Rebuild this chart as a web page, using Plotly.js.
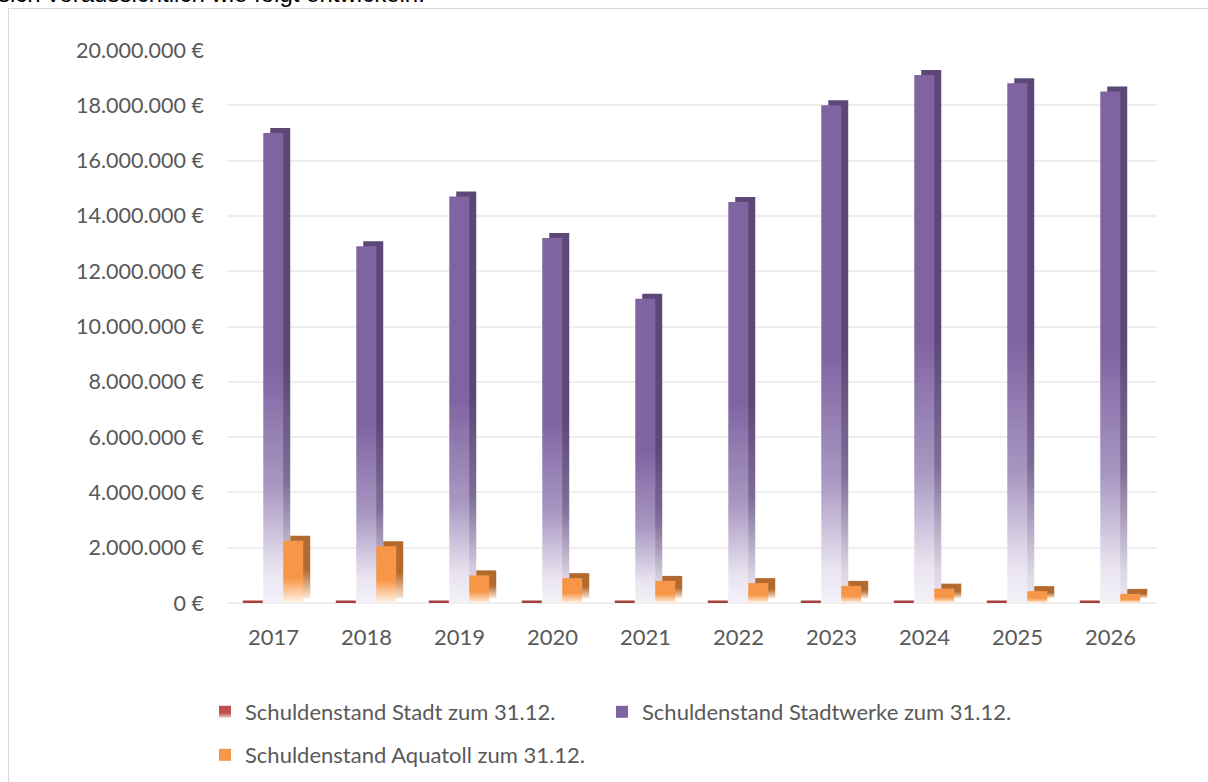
<!DOCTYPE html>
<html><head><meta charset="utf-8">
<script src="https://cdn.plot.ly/plotly-3.0.1.min.js"></script>
<style>
html,body{margin:0;padding:0;background:#fff;overflow:hidden;width:1208px;height:782px;}
#top{position:absolute;left:-2px;top:-20px;font-family:"Liberation Sans",Arial,sans-serif;font-size:24px;line-height:28px;color:#000;white-space:nowrap;}
#frame{position:absolute;left:8px;top:8px;width:1220px;height:800px;border:1px solid #d9d9d9;box-sizing:border-box;}
#chart{position:absolute;left:0;top:0;width:1208px;height:782px;}
</style></head><body>
<div id="top">sich voraussichtlich wie folgt entwickeln:</div>
<div id="frame"></div>
<div id="chart"></div>
<script>
const years = ['2017','2018','2019','2020','2021','2022','2023','2024','2025','2026'];
const stadt = [0,0,0,0,0,0,0,0,0,0];
const stadtwerke = [17000000,12900000,14700000,13200000,11000000,14500000,18000000,19100000,18800000,18500000];
const aquatoll = [2250000,2050000,1000000,900000,800000,720000,620000,520000,430000,330000];
const seriesNames = ['Schuldenstand Stadt zum 31.12.','Schuldenstand Stadtwerke zum 31.12.','Schuldenstand Aquatoll zum 31.12.'];

const W = 0.215, DX = 0.075, DY = 180000;
const font = {family:'Lato, "Open Sans", sans-serif', size:22, color:'#595959'};
const yfont = {family:'Lato, "Open Sans", sans-serif', size:21.5, color:'#595959'};

const traces = [
  {type:'bar', name:seriesNames[0], x:years, y:stadt, width:W, offset:-0.33,
   marker:{color:'#a5403d', line:{color:'#a5403d', width:5}}, legend:'legend', hoverinfo:'skip'},
  {type:'bar', x:years, y:stadtwerke, width:W, offset:-0.11+DX, base:DY, showlegend:false,
   marker:{color:'#5c4776', line:{width:0}}, hoverinfo:'skip'},
  {type:'bar', name:seriesNames[1], x:years, y:stadtwerke, width:W, offset:-0.11,
   marker:{color:'#8064a2', line:{width:0}}, legend:'legend3', hoverinfo:'skip'},
  {type:'bar', x:years, y:aquatoll, width:W, offset:0.105+DX, base:DY, showlegend:false,
   marker:{color:'#b36a2f', line:{width:0}}, hoverinfo:'skip'},
  {type:'bar', name:seriesNames[2], x:years, y:aquatoll, width:W, offset:0.105,
   marker:{color:'#f79646', line:{width:0}}, legend:'legend2', hoverinfo:'skip'}
];

const leg = (x, y) => ({orientation:'h', xref:'container', yref:'container', x:x/1208, y:1-y/782,
  xanchor:'left', yanchor:'middle', font:font, bgcolor:'rgba(0,0,0,0)', itemclick:false});

const layout = {
  width:1208, height:782,
  paper_bgcolor:'rgba(0,0,0,0)', plot_bgcolor:'rgba(0,0,0,0)',
  margin:{l:227, r:51, t:50, b:179},
  barmode:'overlay',
  separators:',.',
  font:font,
  xaxis:{type:'category', tickfont:font, showgrid:false, zeroline:false, showline:false, ticks:'', ticklabelstandoff:19, range:[-0.5,9.5]},
  yaxis:{range:[0,20000000], dtick:2000000, tickformat:',.0f', ticksuffix:' €', tickfont:yfont,
         gridcolor:'#eeeeee', gridwidth:2, zeroline:true, zerolinecolor:'#eeeeee', zerolinewidth:2,
         showline:false, ticks:'', ticklabelstandoff:22},
  showlegend:true,
  legend:leg(205, 712),
  legend3:leg(602, 712),
  legend2:leg(205, 755)
};

function addGradients(gd){
  const svg = gd.querySelector('svg.main-svg');
  const NS = 'http://www.w3.org/2000/svg';
  let defs = svg.querySelector('defs');
  const grads = {
    gRed:[[0,'#c0504d',1],[0.6,'#c0504d',1],[1,'#f2d4d3',1]],
    gPurpS:[[0,'#5c4776',1],[0.5,'#5c4776',1],[0.75,'#7f6e96',1],[0.95,'#ddd7e6',1],[1,'#e8e4ee',1]],
    gPurp:[[0,'#8064a2',1],[0.5,'#8064a2',1],[0.75,'#a897c2',1],[0.93,'#e9e4f0',1],[1,'#f4f1f8',1]],
    gOrS:[[0,'#b36a2f',1],[0.55,'#b36a2f',1],[1,'#fbe3cf',1]],
    gOr:[[0,'#f79646',1],[0.6,'#f79646',1],[1,'#fff4ea',1]]
  };
  Object.keys(grads).forEach(id=>{
    const lg = document.createElementNS(NS,'linearGradient');
    lg.setAttribute('id',id); lg.setAttribute('x1','0'); lg.setAttribute('y1','0'); lg.setAttribute('x2','0'); lg.setAttribute('y2','1');
    grads[id].forEach(s=>{
      const st = document.createElementNS(NS,'stop');
      st.setAttribute('offset',s[0]); st.setAttribute('stop-color',s[1]); st.setAttribute('stop-opacity',s[2]);
      lg.appendChild(st);
    });
    defs.appendChild(lg);
  });
  const ids = ['gRed','gPurpS','gPurp','gOrS','gOr'];
  gd.querySelectorAll('.barlayer .trace.bars').forEach((t,i)=>{
    if(i===0) return;
    t.querySelectorAll('.point path').forEach(p=>{ p.style.fill = 'url(#'+ids[i]+')'; });
  });
  const legIds = {};
  legIds[seriesNames[0]]='gRed'; legIds[seriesNames[1]]='gPurp'; legIds[seriesNames[2]]='gOr';
  gd.querySelectorAll('g[class^="legend"] .traces').forEach(tr=>{
    const txt = tr.querySelector('text.legendtext');
    if(!txt) return;
    const id = legIds[txt.textContent];
    tr.querySelectorAll('.legendpoints path').forEach(p=>{ p.style.fill='url(#'+id+')'; p.style.stroke='none'; });
  });
}

Plotly.newPlot('chart', traces, layout, {staticPlot:true, displayModeBar:false}).then(addGradients);
</script>
</body></html>
